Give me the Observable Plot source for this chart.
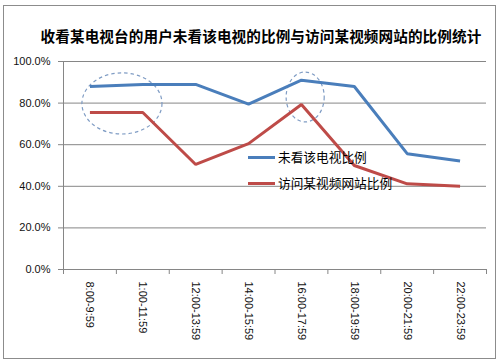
<!DOCTYPE html>
<html><head><meta charset="utf-8">
<script src="https://cdn.jsdelivr.net/npm/d3@7"></script>
<script src="https://cdn.jsdelivr.net/npm/@observablehq/plot@0.6"></script>
<style>
body{margin:0;background:#fff;}
#wrap{position:relative;width:500px;height:364px;overflow:hidden;font-family:"Liberation Sans",Arial,sans-serif;}
#frame{position:absolute;left:3px;top:5px;width:493px;height:354px;border:1px solid #8c8c8c;box-sizing:border-box;}
#title{position:absolute;left:0;width:522px;top:26px;text-align:center;font-family:"Noto Sans CJK SC",sans-serif;font-weight:bold;font-size:14.6px;letter-spacing:0.1px;color:#000;line-height:20px;white-space:nowrap;}
#chart{position:absolute;left:0;top:0;}
.leg{position:absolute;left:248px;font-family:"Noto Sans CJK SC",sans-serif;font-size:12.7px;color:#000;line-height:16px;white-space:nowrap;display:flex;align-items:center;}
.leg i{display:inline-block;width:27px;height:3px;margin-right:3px;}
</style></head>
<body>
<div id="wrap">
  <div id="frame"></div>
  <div id="chart"></div>
  <div id="title">收看某电视台的用户未看该电视的比例与访问某视频网站的比例统计</div>
  <div class="leg" style="top:149px"><i style="background:#4A7EBB"></i>未看该电视比例</div>
  <div class="leg" style="top:175px"><i style="background:#BE4B48"></i>访问某视频网站比例</div>
</div>
<script>
const categories = ["8:00-9:59","1:00-11:59","12:00-13:59","14:00-15:59","16:00-17:59","18:00-19:59","20:00-21:59","22:00-23:59"];
const notWatching = [0.88, 0.89, 0.89, 0.795, 0.91, 0.88, 0.557, 0.522];
const visitingSite = [0.755, 0.755, 0.505, 0.605, 0.793, 0.50, 0.412, 0.40];
const seriesNames = ["未看该电视比例", "访问某视频网站比例"];
const seriesColors = ["#4A7EBB", "#BE4B48"];
const yTicks = [0, 0.2, 0.4, 0.6, 0.8, 1.0];
// highlight ellipses (data coords: category index, ratio)
const ellipseCx = [0.615, 4.08];
const ellipseCy = [0.796, 0.827];
const ellipseRx = [0.757, 0.36];
const ellipseRy = [0.147, 0.12];

const rows = [];
categories.forEach((c, i) => {
  rows.push({i, series: seriesNames[0], v: notWatching[i]});
  rows.push({i, series: seriesNames[1], v: visitingSite[i]});
});
const idx = categories.map((c, i) => i);
const bounds = d3.range(categories.length + 1).map(k => k - 0.5);
const ellipses = ellipseCx.map((cx, k) => ({cx, cy: ellipseCy[k], rx: ellipseRx[k], ry: ellipseRy[k]}));

function ellipseMark(index, scales) {
  const g = d3.create("svg:g");
  for (const e of ellipses) {
    const cx = scales.x(e.cx), cy = scales.y(e.cy);
    const rx = Math.abs(scales.x(e.cx + e.rx) - cx);
    const ry = Math.abs(scales.y(e.cy + e.ry) - cy);
    g.append("ellipse").attr("cx", cx).attr("cy", cy).attr("rx", rx).attr("ry", ry)
      .attr("fill", "none").attr("stroke", "#7f9cc4").attr("stroke-width", 1.2)
      .attr("stroke-dasharray", "3.5,3");
  }
  return g.node();
}

const plot = Plot.plot({
  width: 500,
  height: 364,
  marginLeft: 63,
  marginRight: 14,
  marginTop: 61,
  marginBottom: 95,
  style: {fontFamily: "'Liberation Sans', Arial, sans-serif", fontSize: "11px", color: "#000", background: "transparent"},
  x: {type: "linear", domain: [-0.5, categories.length - 0.5]},
  y: {domain: [0, 1]},
  color: {domain: seriesNames, range: seriesColors},
  marks: [
    Plot.gridY(yTicks, {stroke: "#868686", strokeOpacity: 1}),
    Plot.axisY(yTicks, {tickFormat: d3.format(".1%"), tickSize: 5, tickPadding: 8, stroke: "#868686", fill: "#111", label: null}),
    Plot.axisX(bounds, {tickFormat: () => "", tickSize: 5, stroke: "#868686", label: null}),
    Plot.axisX(idx, {tickFormat: i => categories[i], tickSize: 0, tickPadding: 12, tickRotate: 90, fill: "#111", label: null}),
    Plot.ruleX([-0.5], {stroke: "#868686"}),
    Plot.ruleY([0], {stroke: "#868686"}),
    ellipseMark,
    Plot.line(rows, {x: "i", y: "v", z: "series", stroke: "series", strokeWidth: 3, strokeLinejoin: "miter", strokeLinecap: "butt"})
  ]
});
document.getElementById("chart").appendChild(plot);
</script>
</body></html>
